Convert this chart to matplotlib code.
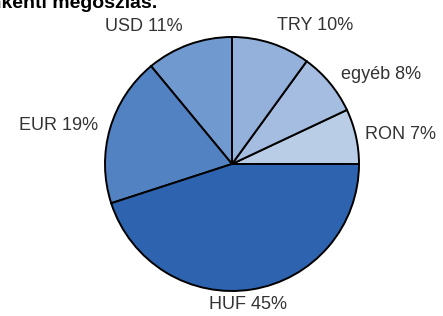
import matplotlib
matplotlib.use("Agg")
import matplotlib.pyplot as plt
import numpy as np

categories = ["RON", "egyéb", "TRY", "USD", "EUR", "HUF"]
shares = [7, 8, 10, 11, 19, 45]
colors = ["#b9cde6", "#a5bde0", "#93b1da", "#7099cf", "#5282c2", "#2e63b0"]
title_text = "Devizanemenkénti megoszlás."

plt.rcParams['font.family'] = ['Liberation Sans', 'DejaVu Sans']

fig = plt.figure(figsize=(4.43, 3.16), dpi=100)
ax = fig.add_axes([105/443, 25/316, 254/443, 254/316])
labels = [f"{c} {v}%" for c, v in zip(categories, shares)]
wedges, texts = ax.pie(shares, labels=labels, colors=colors, startangle=0,
                       counterclock=True, labeldistance=1.15,
                       wedgeprops=dict(edgecolor="black", linewidth=1.4),
                       textprops=dict(fontsize=13, color="#333333"))
label_dist = {"RON": 1.07, "egyéb": 1.11, "TRY": 1.15, "USD": 1.15, "EUR": 1.1, "HUF": 1.12}
for w, t, c in zip(wedges, texts, categories):
    ang = np.deg2rad((w.theta1 + w.theta2) / 2)
    d = label_dist[c]
    x, y = d * np.cos(ang), d * np.sin(ang)
    if c == "HUF":
        t.set_ha("center")
        x -= 0.05
    t.set_position((x, y))
ax.set_aspect("equal")
ax.set_xlim(-1, 1)
ax.set_ylim(-1, 1)

fig.text(157/443, 1 - 8/316, title_text, ha="right", va="baseline",
         fontsize=14, fontweight="bold", color="black")

fig.savefig("out.png", dpi=100)
